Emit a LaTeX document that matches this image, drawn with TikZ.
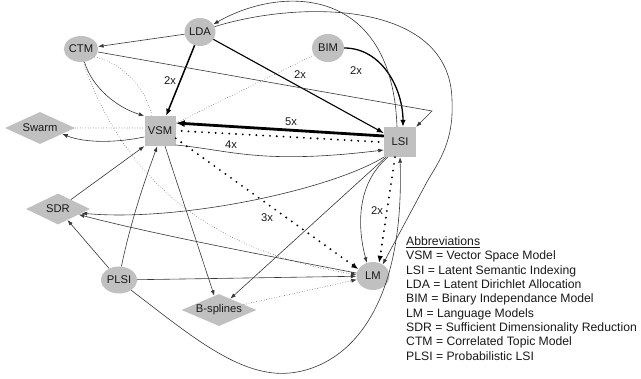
\documentclass[tikz,border=0pt]{standalone}
\usepackage{fontspec}
\setmainfont{Liberation Sans}
\usetikzlibrary{arrows.meta,shapes.geometric,calc}
\definecolor{nodegray}{RGB}{192,192,192}
\definecolor{linegray}{RGB}{55,55,55}
\definecolor{txtgray}{RGB}{25,25,25}
\begin{document}
\begin{tikzpicture}[x=1pt,y=-1pt,
  every node/.style={font=\fontsize{11.2}{13}\selectfont, text=txtgray},
  ell/.style={ellipse, fill=nodegray, inner sep=0pt},
  box/.style={rectangle, fill=nodegray, inner sep=0pt, minimum width=31pt, minimum height=30pt},
  dia/.style={diamond, fill=nodegray, inner sep=0pt, aspect=2.2},
  thinln/.style={draw=linegray, line width=0.6pt},
  dotthin/.style={draw=linegray, line width=0.7pt, dash pattern=on 0pt off 2.6pt, line cap=round},
  dotthick/.style={draw=black, line width=2.1pt, dash pattern=on 0pt off 6.8pt, line cap=round},
  tip/.style={-{Latex[length=5.5pt,width=4pt]}},
  tiptwo/.style={-{Latex[length=7pt,width=5.5pt]}},
  tipthree/.style={-{Latex[length=9pt,width=7pt]}},
  lbl/.style={inner sep=0pt},
  legend/.style={font=\fontsize{12.2}{14}\selectfont, inner sep=0pt, anchor=base west}
]
\useasboundingbox (0,0) rectangle (641,379);

% nodes
\node[ell, minimum width=31pt, minimum height=28pt] (LDA) at (200,32) {LDA};
\node[ell, minimum width=34pt, minimum height=26pt] (CTM) at (81,49) {CTM};
\node[ell, minimum width=32pt, minimum height=28pt] (BIM) at (328,48) {BIM};
\node[ell, minimum width=36pt, minimum height=27pt] (PLSI) at (119,280) {PLSI};
\node[ell, minimum width=33pt, minimum height=28pt] (LM) at (373,276) {LM};
\node[box] (VSM) at (160,131) {VSM};
\node[box, minimum width=32pt] (LSI) at (400,142) {LSI};
\node[dia, minimum width=70pt, minimum height=32pt] (Swarm) at (40,128) {Swarm};
\node[dia, minimum width=64pt, minimum height=31pt] (SDR) at (58,209) {SDR};
\node[dia, minimum width=75pt, minimum height=32pt] (Bsp) at (219,310) {B-splines};

% connectors
\draw[thinln,tip] (LDA) -- (CTM);
\draw[line width=1.5pt,tiptwo] (LDA) -- (VSM);
\draw[line width=1.1pt,tiptwo] (LDA) -- (LSI);
\draw[line width=1.3pt,tiptwo] (BIM.east) .. controls (382,48) and (403,89) .. ([xshift=3pt]LSI.north);
\draw[dotthin] (BIM) -- (VSM);
\draw[thinln,tip] (CTM.-75) .. controls (92,88) and (118,108) .. (VSM.north west);
\draw[dotthin] (CTM.-30) .. controls (120,62) and (145,85) .. ([xshift=-8pt]VSM.north);
\draw[dotthin,tip] (CTM.-80) .. controls (120,170) and (200,250) .. (LM.175);
\draw[dotthin] (Swarm.east) -- ([yshift=3pt]VSM.west);
\draw[thinln,tip] ([yshift=-6pt]VSM.west) .. controls (115,143) and (85,143) .. (Swarm.-15);
\draw[thinln,tip] (SDR) -- (VSM.south west);
\draw[thinln,tip] (PLSI.80) .. controls (130,225) and (143,185) .. (VSM.-100);
\draw[thinln,tip] (PLSI) -- (SDR);
\draw[thinln,tip] (PLSI) -- (LM);
\coordinate (bot) at (290,373);
\draw[thinln,tip] (PLSI.-40) .. controls (190,335) and (240,378) .. (bot) .. controls (340,368) and (405,320) .. (LSI.south);
\draw[thinln,tip] (LSI.south west) .. controls (330,190) and (180,222) .. (SDR.-10);
\draw[thinln,tip] (LM.170) .. controls (300,262) and (160,236) .. (SDR.-15);
\draw[thinln,tip] (VSM) -- (Bsp);
\draw[thinln,tip] ([xshift=2pt]LSI.south west) -- (Bsp.45);
\draw[thinln,tip] ([xshift=4pt]LSI.south west) .. controls (355,185) and (358,230) .. (LM.115);
\draw[dotthick,tiptwo] ([xshift=-5pt]LSI.south) -- (LM.65);
\coordinate (rt) at (452,100);
\coordinate (rb) at (428,180);
\draw[thinln,tip] (LDA.20) .. controls (300,0) and (450,0) .. (rt) .. controls (454,140) and (440,160) .. (rb) -- (LM.50);
\draw[thinln,tip] ([xshift=-3pt]LSI.north) .. controls (392,-15) and (282,-15) .. (LDA.30);
\coordinate (kink) at (432,111);
\draw[thinln,tip] (CTM.-10) -- (kink) -- (LSI.north east);
\draw[line width=2.8pt,tipthree] ([yshift=6pt]LSI.west) -- ([yshift=8pt]VSM.east);
\draw[dotthick] ([xshift=6pt]VSM.east) -- ([xshift=-4pt]LSI.west);
\draw[thinln,tip] ([yshift=-14pt]VSM.east) .. controls (230,150) and (260,165) .. ([yshift=-8pt]LSI.west);
\draw[dotthick,tiptwo] (VSM.-25) -- (LM.155);
\draw[dotthin,tip] (Bsp) -- (LM);

% edge labels
\node[lbl] (l1) at (170,81) {2x};
\node[lbl] (l2) at (300,75) {2x};
\node[lbl] (l3) at (356,71) {2x};
\node[lbl] (l4) at (291,122) {5x};
\node[lbl] (l5) at (231,145) {4x};
\node[lbl] (l6) at (267,218) {3x};
\node[lbl] (l7) at (377,211) {2x};

% legend
\node[legend] (g0) at (406,245.5) {\underline{Abbreviations}};
\node[legend] (g1) at (406,259.9) {VSM = Vector Space Model};
\node[legend] (g2) at (406,274.2) {LSI = Latent Semantic Indexing};
\node[legend] (g3) at (406,288.6) {LDA = Latent Dirichlet Allocation};
\node[legend] (g4) at (406,302.9) {BIM = Binary Independance Model};
\node[legend] (g5) at (406,317.3) {LM = Language Models};
\node[legend] (g6) at (406,331.7) {SDR = Sufficient Dimensionality Reduction};
\node[legend] (g7) at (406,346.0) {CTM = Correlated Topic Model};
\node[legend] (g8) at (406,360.4) {PLSI = Probabilistic LSI};
\end{tikzpicture}
\end{document}
